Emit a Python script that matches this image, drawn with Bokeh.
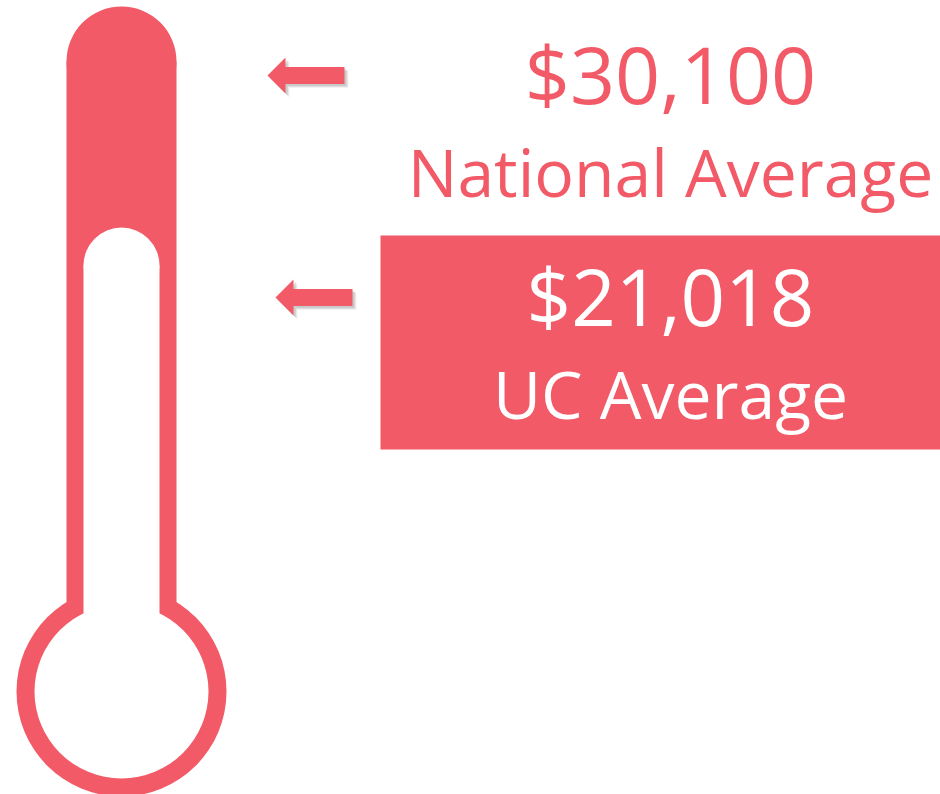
from bokeh.plotting import figure
from bokeh.models import Range1d, ColumnDataSource
from bokeh.core.properties import value
from bokeh.embed import file_html
from bokeh.resources import INLINE

# ---- data ----
categories = ["National Average", "UC Average"]
amounts = [30100, 21018]
highlight = "UC Average"

# ---- styles ----
RED = "#F25A67"
FONT = "Open Sans"
W, H = 940, 794

p = figure(width=W, height=H, x_range=Range1d(0, W), y_range=Range1d(H, 0),
           output_backend="svg", toolbar_location=None, min_border=0)
p.axis.visible = False
p.grid.visible = False
p.outline_line_color = None
p.background_fill_color = "white"
p.border_fill_color = "white"

# thermometer scale: amount -> vertical pixel position
v_hi, v_lo = max(amounts), min(amounts)
y_hi, y_lo = 75.0, 297.0
def y_of(v):
    return y_hi + (v - v_hi) * (y_lo - y_hi) / (v_lo - v_hi)

# thermometer body
cx = 121
p.quad(left=[66], right=[176], top=[61], bottom=[650], fill_color=RED, line_color=None)
p.circle(x=[cx], y=[61], radius=55, fill_color=RED, line_color=None)
p.circle(x=[cx], y=[691], radius=105, fill_color=RED, line_color=None)
p.quad(left=[83], right=[159], top=[265], bottom=[691], fill_color="white", line_color=None)
p.circle(x=[cx], y=[265], radius=38, fill_color="white", line_color=None)
p.circle(x=[cx], y=[691], radius=87, fill_color="white", line_color=None)

# arrows, highlight box and labels
arrow_dx = [0, 8]
num_y, lab_y, col = [], [], []
for i, (cat, amt) in enumerate(zip(categories, amounts)):
    y = y_of(amt)
    tip = 267 + arrow_dx[i]
    xs = [tip, tip + 18, tip + 18, tip + 77, tip + 77, tip + 18, tip + 18]
    ys = [y, y - 18, y - 8.5, y - 8.5, y + 8.5, y + 8.5, y + 18]
    for off, a in [(4, 0.08), (3, 0.12), (2, 0.15)]:
        p.patch([x + off for x in xs], [v + off for v in ys], fill_color="#555555",
                fill_alpha=a, line_color=None)
    p.patch(xs, ys, fill_color=RED, line_color=None)
    if cat == highlight:
        p.quad(left=[380], right=[W + 5], top=[y - 62], bottom=[y + 152],
               fill_color=RED, line_color=None)
        col.append("white")
    else:
        col.append(RED)
    num_y.append(y - 2)
    lab_y.append(y + 95)

src = ColumnDataSource(dict(
    x=[670] * len(amounts), ny=num_y, ly=lab_y,
    num=[f"${a:,}" for a in amounts], lab=categories, col=col,
    nsize=["79px", "78px"], lsize=["66px", "66px"]))
p.text(x="x", y="ny", text="num", source=src, text_color="col", text_font=value(FONT),
       text_font_size="nsize", text_align="center", text_baseline="alphabetic")
p.text(x="x", y="ly", text="lab", source=src, text_color="col", text_font=value(FONT),
       text_font_size="lsize", text_align="center", text_baseline="alphabetic")

open("out.html", "w").write(file_html(p, INLINE))
